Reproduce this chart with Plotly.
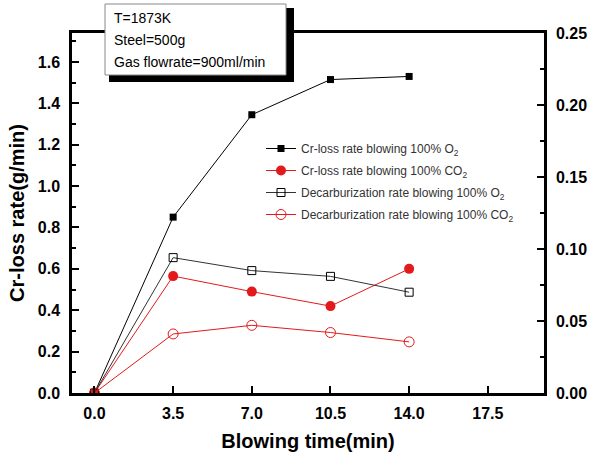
import plotly.graph_objects as go

time = [0.0, 3.5, 7.0, 10.5, 14.0]
cr_o2 = [0.0, 0.85, 1.345, 1.515, 1.53]
cr_co2 = [0.0, 0.565, 0.49, 0.42, 0.60]
dec_o2 = [0.0, 0.094, 0.085, 0.081, 0.070]
dec_co2 = [0.0, 0.041, 0.047, 0.042, 0.0355]

names = ["Cr-loss rate blowing 100% O<sub>2</sub>",
         "Cr-loss rate blowing 100% CO<sub>2</sub>",
         "Decarburization rate blowing 100% O<sub>2</sub>",
         "Decarburization rate blowing 100% CO<sub>2</sub>"]
info_lines = ["T=1873K", "Steel=500g", "Gas flowrate=900ml/min"]

RED = "#e31a1c"
fig = go.Figure()
fig.add_trace(go.Scatter(x=time, y=cr_o2, name=names[0], mode="lines+markers", legendgroup="a",
                         line=dict(color="black", width=1),
                         marker=dict(symbol="square", size=7, color="black")))
fig.add_trace(go.Scatter(x=time, y=cr_co2, name=names[1], mode="lines+markers", legendgroup="b",
                         line=dict(color=RED, width=1),
                         marker=dict(symbol="circle", size=10, color=RED)))
fig.add_trace(go.Scatter(x=time, y=dec_o2, name=names[2], mode="lines+markers", yaxis="y2", legendgroup="c",
                         line=dict(color="#333333", width=1),
                         marker=dict(symbol="square-open", size=8, color="black", line=dict(width=1))))
fig.add_trace(go.Scatter(x=time, y=dec_co2, name=names[3], mode="lines+markers", yaxis="y2", legendgroup="d",
                         line=dict(color=RED, width=1),
                         marker=dict(symbol="circle-open", size=10, color=RED, line=dict(width=1))))

L, R, T, B = 72, 544, 33, 393
W, H = 591, 454
def px(x): return (x - L) / (R - L)
def py(y): return (B - y) / (B - T)

TF = dict(size=16, family="Liberation Sans, Arial", weight="bold")
fig.update_layout(
    width=W, height=H,
    margin=dict(l=L, r=W - R, t=T, b=H - B, autoexpand=False),
    paper_bgcolor="white", plot_bgcolor="white",
    font=dict(family="Liberation Sans, Arial", color="black"),
    showlegend=True,
    legend=dict(x=px(261), y=py(134), xanchor="left", yanchor="top",
                bgcolor="rgba(0,0,0,0)", font=dict(size=12, color="#333333"),
                tracegroupgap=3, itemwidth=30),
    xaxis=dict(range=[-1.0, 20.0], tickmode="array", tickvals=time + [17.5],
               ticktext=["0.0", "3.5", "7.0", "10.5", "14.0", "17.5"],
               ticks="inside", ticklen=7, tickwidth=2, tickcolor="black",
               ticklabelstandoff=4, automargin=False,
               showline=True, linewidth=2.5, linecolor="black", mirror=True,
               showgrid=False, zeroline=False,
               tickfont=TF,
               title=dict(text="<b>Blowing time(min)</b>", font=dict(size=20), standoff=14)),
    yaxis=dict(range=[0, 1.74], dtick=0.2, tick0=0, tickformat=".1f",
               ticks="inside", ticklen=7, tickwidth=2, tickcolor="black",
               ticklabelstandoff=6, automargin=False,
               minor=dict(dtick=0.1, ticks="inside", ticklen=4, tickwidth=1.5, tickcolor="black"),
               showline=True, linewidth=2.5, linecolor="black",
               showgrid=False, zeroline=False,
               tickfont=TF,
               title=dict(text="<b>Cr-loss rate(g/min)</b>", font=dict(size=20), standoff=8)),
    yaxis2=dict(range=[0, 0.25], dtick=0.05, tick0=0, tickformat=".2f",
                overlaying="y", side="right",
                ticks="inside", ticklen=7, tickwidth=2, tickcolor="black",
                ticklabelstandoff=6, automargin=False,
                minor=dict(dtick=0.025, ticks="inside", ticklen=4, tickwidth=1.5, tickcolor="black"),
                showline=True, linewidth=2.5, linecolor="black",
                showgrid=False, zeroline=False,
                tickfont=TF),
)

# info box with drop shadow: a dark rectangle behind, white box on top
SH = "#000000"
fig.add_shape(type="rect", xref="paper", yref="paper", layer="above",
              x0=px(110), x1=px(293), y0=py(9), y1=py(81),
              fillcolor=SH, line=dict(color=SH, width=2))
fig.add_shape(type="rect", xref="paper", yref="paper", layer="above",
              x0=px(105), x1=px(286), y0=py(4), y1=py(75),
              fillcolor="white", line=dict(color="#888888", width=1))
for i, t in enumerate(info_lines):
    fig.add_annotation(xref="paper", yref="paper", x=px(112), y=py(18 + 22 * i),
                       text=t, showarrow=False, xanchor="left", yanchor="middle",
                       font=dict(size=14, color="black"))

fig.write_html("out.html")
